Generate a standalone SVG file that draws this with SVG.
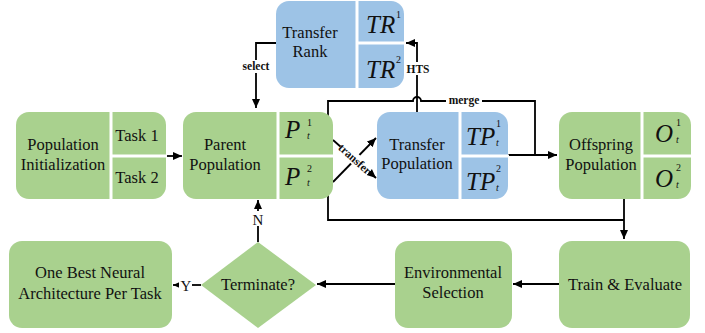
<svg xmlns="http://www.w3.org/2000/svg" width="705" height="333" viewBox="0 0 705 333">
<style>
.gfill{fill:#A9D18E}
.bfill{fill:#9DC3E6}
.cell-div{stroke:#fff;stroke-width:3;fill:none}
.conn{stroke:#000;stroke-width:1.8;fill:none}
</style>
<defs>
<marker id="ah" markerWidth="10" markerHeight="10" refX="9" refY="5" orient="auto" markerUnits="userSpaceOnUse">
<path d="M0,1 L9,5 L0,9 Z" fill="#000"/>
</marker>
</defs>

<g id="connectors">
<path class="conn" d="M276,43 H256 V108" marker-end="url(#ah)"/>
<rect x="238" y="60" width="36" height="13" fill="#fff"/>
<text x="256" y="70" style="font-family:'Liberation Serif',serif;font-weight:bold;font-size:11.5px;text-anchor:middle;fill:#111">select</text>
<path class="conn" d="M417,112 V43 H406" marker-end="url(#ah)"/>
<rect x="403" y="62" width="30" height="13" fill="#fff"/>
<text x="418" y="73" style="font-family:'Liberation Serif',serif;font-weight:bold;font-size:11.5px;text-anchor:middle;fill:#111">HTS</text>
<path class="conn" d="M328,116 V101 H413 A4,4 0 0 1 421,101 H535 V155"/>
<rect x="446" y="95" width="36" height="12" fill="#fff"/>
<text x="464" y="104" style="font-family:'Liberation Serif',serif;font-weight:bold;font-size:11.5px;text-anchor:middle;fill:#111">merge</text>
<path class="conn" d="M508,155 H557" marker-end="url(#ah)"/>
<path class="conn" d="M166,156 H182" marker-end="url(#ah)"/>
<path class="conn" d="M333,140 L376,178" marker-end="url(#ah)"/>
<path class="conn" d="M333,182 L376,138" marker-end="url(#ah)"/>
<g transform="translate(355,159) rotate(42)">
<rect x="-19" y="-6" width="38" height="12" fill="#fff"/>
<text x="0" y="4" style="font-family:'Liberation Serif',serif;font-weight:bold;font-size:11.5px;text-anchor:middle;fill:#111">transfer</text>
</g>
<path class="conn" d="M328,195 V220 H624"/>
<path class="conn" d="M624,199 V239" marker-end="url(#ah)"/>
<path class="conn" d="M559,284 H513" marker-end="url(#ah)"/>
<path class="conn" d="M395,284 H317" marker-end="url(#ah)"/>
<path class="conn" d="M258,242 V200" marker-end="url(#ah)"/>
<rect x="250" y="211" width="16" height="15" fill="#fff"/>
<text x="258" y="225" style="font-family:'Liberation Serif',serif;font-size:15px;text-anchor:middle;fill:#111">N</text>
<path class="conn" d="M201,285 H173" marker-end="url(#ah)"/>
<rect x="179" y="277" width="13" height="15" fill="#fff"/>
<text x="186" y="291" style="font-family:'Liberation Serif',serif;font-size:15px;text-anchor:middle;fill:#111">Y</text>
</g>

<g id="transfer-rank">
<rect class="bfill" x="276" y="1" width="128" height="87" rx="13"/>
<path class="cell-div" d="M357,0 V89 M357,43 H405"/>
<text x="310" y="38" style="font-family:'Liberation Serif',serif;font-size:16.5px;text-anchor:middle;fill:#111">Transfer</text>
<text x="310" y="57" style="font-family:'Liberation Serif',serif;font-size:16.5px;text-anchor:middle;fill:#111">Rank</text>
<text x="366" y="33" style="font-family:'Liberation Serif',serif;font-style:italic;font-size:25px;fill:#111">TR</text>
<text x="396" y="18" style="font-family:'Liberation Serif',serif;font-size:10px;fill:#111">1</text>
<text x="366" y="78" style="font-family:'Liberation Serif',serif;font-style:italic;font-size:25px;fill:#111">TR</text>
<text x="396" y="63" style="font-family:'Liberation Serif',serif;font-size:10px;fill:#111">2</text>
</g>

<g id="population-initialization">
<rect class="gfill" x="16" y="112" width="150" height="87" rx="13"/>
<path class="cell-div" d="M111,111 V200 M111,156 H167"/>
<text x="63" y="150" style="font-family:'Liberation Serif',serif;font-size:16.5px;text-anchor:middle;fill:#111">Population</text>
<text x="63" y="170" style="font-family:'Liberation Serif',serif;font-size:16.5px;text-anchor:middle;fill:#111">Initialization</text>
<text x="137" y="141" style="font-family:'Liberation Serif',serif;font-size:16.5px;text-anchor:middle;fill:#111">Task 1</text>
<text x="137" y="183" style="font-family:'Liberation Serif',serif;font-size:16.5px;text-anchor:middle;fill:#111">Task 2</text>
</g>

<g id="parent-population">
<rect class="gfill" x="183" y="112" width="150" height="87" rx="13"/>
<path class="cell-div" d="M278,111 V200 M278,156 H334"/>
<text x="225" y="150" style="font-family:'Liberation Serif',serif;font-size:16.5px;text-anchor:middle;fill:#111">Parent</text>
<text x="225" y="170" style="font-family:'Liberation Serif',serif;font-size:16.5px;text-anchor:middle;fill:#111">Population</text>
<text x="285" y="138" style="font-family:'Liberation Serif',serif;font-style:italic;font-size:25px;fill:#111">P</text>
<text x="307" y="126" style="font-family:'Liberation Serif',serif;font-size:10px;fill:#111">1</text>
<text x="307" y="139" style="font-family:'Liberation Serif',serif;font-style:italic;font-size:10px;fill:#111">t</text>
<text x="285" y="185" style="font-family:'Liberation Serif',serif;font-style:italic;font-size:25px;fill:#111">P</text>
<text x="307" y="172" style="font-family:'Liberation Serif',serif;font-size:10px;fill:#111">2</text>
<text x="307" y="186" style="font-family:'Liberation Serif',serif;font-style:italic;font-size:10px;fill:#111">t</text>
</g>

<g id="transfer-population">
<rect class="bfill" x="377" y="112" width="131" height="87" rx="13"/>
<path class="cell-div" d="M460,111 V200 M460,156 H509"/>
<text x="417" y="150" style="font-family:'Liberation Serif',serif;font-size:16.5px;text-anchor:middle;fill:#111">Transfer</text>
<text x="417" y="169" style="font-family:'Liberation Serif',serif;font-size:16.5px;text-anchor:middle;fill:#111">Population</text>
<text x="466" y="145" style="font-family:'Liberation Serif',serif;font-style:italic;font-size:25px;fill:#111">TP</text>
<text x="496" y="127" style="font-family:'Liberation Serif',serif;font-size:10px;fill:#111">1</text>
<text x="496" y="146" style="font-family:'Liberation Serif',serif;font-style:italic;font-size:10px;fill:#111">t</text>
<text x="466" y="190" style="font-family:'Liberation Serif',serif;font-style:italic;font-size:25px;fill:#111">TP</text>
<text x="496" y="172" style="font-family:'Liberation Serif',serif;font-size:10px;fill:#111">2</text>
<text x="496" y="191" style="font-family:'Liberation Serif',serif;font-style:italic;font-size:10px;fill:#111">t</text>
</g>

<g id="offspring-population">
<rect class="gfill" x="559" y="112" width="132" height="87" rx="13"/>
<path class="cell-div" d="M642,111 V200 M642,156 H692"/>
<text x="601" y="150" style="font-family:'Liberation Serif',serif;font-size:16.5px;text-anchor:middle;fill:#111">Offspring</text>
<text x="601" y="170" style="font-family:'Liberation Serif',serif;font-size:16.5px;text-anchor:middle;fill:#111">Population</text>
<text x="655" y="142" style="font-family:'Liberation Serif',serif;font-style:italic;font-size:25px;fill:#111">O</text>
<text x="676" y="126" style="font-family:'Liberation Serif',serif;font-size:10px;fill:#111">1</text>
<text x="676" y="143" style="font-family:'Liberation Serif',serif;font-style:italic;font-size:10px;fill:#111">t</text>
<text x="655" y="187" style="font-family:'Liberation Serif',serif;font-style:italic;font-size:25px;fill:#111">O</text>
<text x="676" y="171" style="font-family:'Liberation Serif',serif;font-size:10px;fill:#111">2</text>
<text x="676" y="188" style="font-family:'Liberation Serif',serif;font-style:italic;font-size:10px;fill:#111">t</text>
</g>

<g id="train-evaluate">
<rect class="gfill" x="559" y="241" width="131" height="87" rx="13"/>
<text x="625" y="290" style="font-family:'Liberation Serif',serif;font-size:16.5px;text-anchor:middle;fill:#111">Train &amp; Evaluate</text>
</g>

<g id="environmental-selection">
<rect class="gfill" x="395" y="241" width="117" height="87" rx="13"/>
<text x="453" y="278" style="font-family:'Liberation Serif',serif;font-size:16.5px;text-anchor:middle;fill:#111">Environmental</text>
<text x="453" y="298" style="font-family:'Liberation Serif',serif;font-size:16.5px;text-anchor:middle;fill:#111">Selection</text>
</g>

<g id="terminate">
<path class="gfill" d="M258,242 L316,285 L258,328 L201,285 Z"/>
<text x="258" y="290" style="font-family:'Liberation Serif',serif;font-size:16.5px;text-anchor:middle;fill:#111">Terminate?</text>
</g>

<g id="one-best">
<rect class="gfill" x="9" y="241" width="163" height="87" rx="13"/>
<text x="90" y="278" style="font-family:'Liberation Serif',serif;font-size:16.5px;text-anchor:middle;fill:#111">One Best Neural</text>
<text x="90" y="299" style="font-family:'Liberation Serif',serif;font-size:16.5px;text-anchor:middle;fill:#111">Architecture Per Task</text>
</g>
</svg>
